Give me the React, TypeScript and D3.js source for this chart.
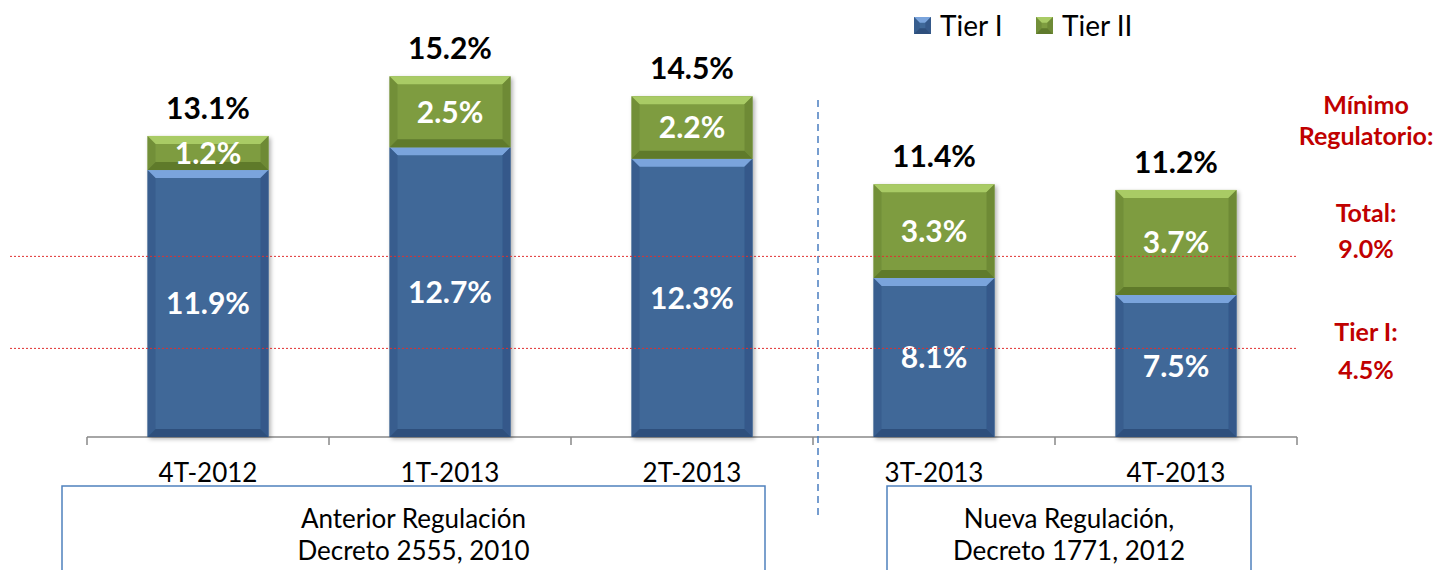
import React from "react";
import * as d3 from "d3";

const categories = ["4T-2012", "1T-2013", "2T-2013", "3T-2013", "4T-2013"];
const tier1 = [11.9, 12.7, 12.3, 8.1, 7.5];
const tier2 = [1.2, 2.5, 2.2, 3.3, 3.7];
const totals = [13.1, 15.2, 14.5, 11.4, 11.2];
const seriesNames = ["Tier I", "Tier II"];
// drawn positions of the reference lines (in axis units)
const refLinePos = [8.86, 5.62];
const noteLines = ["Mínimo", "Regulatorio:", "Total:", "9.0%", "Tier I:", "4.5%"];
const regulations = [
  { from: 0, to: 2, lines: ["Anterior Regulación", "Decreto 2555, 2010"] },
  { from: 3, to: 4, lines: ["Nueva Regulación,", "Decreto 1771, 2012"] },
];

const FONT = "Lato, 'Open Sans', sans-serif";
const W = 1435, H = 570;
const colors = {
  blue: { base: "#3F6898", top: "#7AA4DC", side: "#35598A", bottom: "#2E4F7C" },
  green: { base: "#7E9C40", top: "#A9CB65", side: "#6E8A36", bottom: "#5F7A2C" },
};

function Bevel({ x, y, w, h, c }: any) {
  const b = Math.min(8, h / 3);
  return (
    <g>
      <rect x={x} y={y} width={w} height={h} fill={c.base} />
      <polygon points={`${x},${y} ${x + w},${y} ${x + w - b},${y + b} ${x + b},${y + b}`} fill={c.top} />
      <polygon points={`${x},${y} ${x + b},${y + b} ${x + b},${y + h - b} ${x},${y + h}`} fill={c.side} opacity={0.7} />
      <polygon points={`${x + w},${y} ${x + w - b},${y + b} ${x + w - b},${y + h - b} ${x + w},${y + h}`} fill={c.side} />
      <polygon points={`${x},${y + h} ${x + b},${y + h - b} ${x + w - b},${y + h - b} ${x + w},${y + h}`} fill={c.bottom} />
    </g>
  );
}

export default function App() {
  const x = d3.scaleBand().domain(categories).range([87, 1297]).paddingInner(0.5).paddingOuter(0.25);
  const y = d3.scaleLinear().domain([2.5, 16]).range([437, 437 - 13.5 * 28.4]);
  const bw = x.bandwidth();
  const step = x.step();
  const ticks = d3.range(categories.length + 1).map((i) => 87 + i * step);
  const divX = (x(categories[2])! + x(categories[3])! + bw) / 2 + 5;
  const noteY = [114, 145, y(refLinePos[0]) - 34, y(refLinePos[0]) + 2, y(refLinePos[1]) - 7, y(refLinePos[1]) + 31];

  return (
    <svg width={W} height={H} style={{ position: "absolute", left: 0, top: 0 }} fontFamily={FONT}>
      <defs>
        <filter id="sh" x="-10%" y="-10%" width="130%" height="130%">
          <feDropShadow dx="2" dy="2" stdDeviation="2" floodColor="#000" floodOpacity="0.3" />
        </filter>
      </defs>
      <rect width={W} height={H} fill="#fff" />
      {/* axis */}
      <line x1={87} x2={1297} y1={437} y2={437} stroke="#888" strokeWidth={1.5} />
      {ticks.map((t, i) => (
        <line key={i} x1={t} x2={t} y1={437} y2={445} stroke="#888" strokeWidth={1.5} />
      ))}
      {/* bars */}
      {categories.map((c, i) => {
        const bx = x(c)!;
        const y1 = y(tier1[i]);
        const y2 = y(tier1[i] + tier2[i]);
        return (
          <g key={c}>
            <g filter="url(#sh)">
              <Bevel x={bx} y={y1} w={bw} h={y(2.5) - y1} c={colors.blue} />
              <Bevel x={bx} y={y2} w={bw} h={y1 - y2} c={colors.green} />
            </g>
            <text x={bx + bw / 2} y={(y1 + y(2.5)) / 2} dy="0.36em" textAnchor="middle" fill="#fff" fontWeight="bold" fontSize={30}>
              {tier1[i].toFixed(1)}%
            </text>
            <text x={bx + bw / 2} y={(y1 + y2) / 2} dy="0.36em" textAnchor="middle" fill="#fff" fontWeight="bold" fontSize={30}>
              {tier2[i].toFixed(1)}%
            </text>
            <text x={bx + bw / 2} y={y2 - 17} textAnchor="middle" fill="#000" fontWeight="bold" fontSize={30}>
              {totals[i].toFixed(1)}%
            </text>
            <text x={bx + bw / 2} y={482} textAnchor="middle" fill="#000" fontSize={26}>
              {c}
            </text>
          </g>
        );
      })}
      {/* reference lines */}
      {refLinePos.map((v, i) => (
        <line key={i} x1={10} x2={1297} y1={y(v)} y2={y(v)} stroke="#E03030" strokeWidth={1} strokeDasharray="2,2" />
      ))}
      {/* divider */}
      <line x1={divX} x2={divX} y1={100} y2={518} stroke="#4A7EC0" strokeWidth={1.5} strokeDasharray="7,5" />
      {/* regulation boxes */}
      {regulations.map((r, i) => {
        const x0 = i === 0 ? 62 : x(categories[r.from])! + bw / 2 - 47;
        const x1 = i === 0 ? 765 : x(categories[r.to])! + bw / 2 + 75;
        const cx = (x0 + x1) / 2;
        return (
          <g key={i}>
            <rect x={x0} y={486} width={x1 - x0} height={120} fill="#fff" stroke="#4F81BD" strokeWidth={1.5} />
            {r.lines.map((l, j) => (
              <text key={j} x={cx} y={528 + j * 32} textAnchor="middle" fontSize={26} fill="#000">
                {l}
              </text>
            ))}
          </g>
        );
      })}
      {/* legend */}
      {seriesNames.map((s, i) => {
        const lx = 914 + i * 122;
        const c = i === 0 ? colors.blue : colors.green;
        return (
          <g key={s}>
            <Bevel x={lx} y={17} w={17} h={17} c={c} />
            <text x={lx + 26} y={36} fontSize={28} fill="#000">{s}</text>
          </g>
        );
      })}
      {/* right annotations */}
      <g fill="#C00000" fontWeight="bold" fontSize={25} textAnchor="middle">
        {noteLines.map((t, i) => (
          <text key={i} x={1366} y={noteY[i]}>{t}</text>
        ))}
      </g>
    </svg>
  );
}
